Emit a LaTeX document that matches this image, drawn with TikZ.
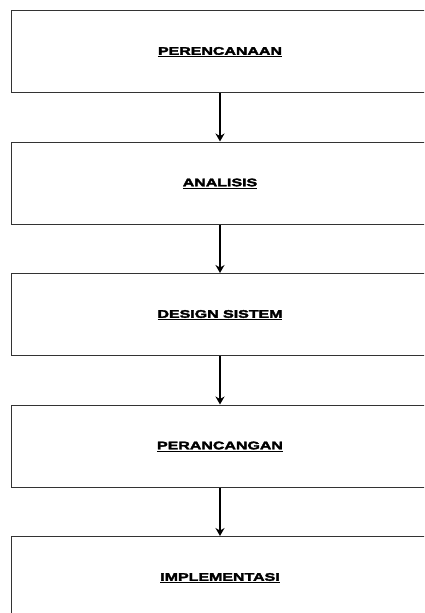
\documentclass[tikz,border=0pt]{standalone}
\usepackage{fontspec}
\setmainfont{Liberation Sans}
\newfontfamily\stagefont[FakeStretch=1.45,FakeBold=3]{Liberation Sans Bold}
\usetikzlibrary{positioning,arrows.meta}

\begin{document}
\begin{tikzpicture}[x=1pt,y=-1pt,line width=1.3pt,>={Stealth[length=8pt,width=9pt]},
  stage/.style={draw=black!80,minimum width=440pt,minimum height=82pt,inner sep=0pt,anchor=north west},
  lab/.style={font=\stagefont\fontsize{11}{13}\selectfont,inner sep=0pt}]
\useasboundingbox (0,0) rectangle (424,613);
\clip (0,0) rectangle (424,613);
\foreach \i/\t in {1/PERENCANAAN,2/ANALISIS,3/DESIGN SISTEM,4/PERANCANGAN,5/IMPLEMENTASI}{
  \node[stage] (s\i) at (11,10+131.5*\i-131.5) {};
  \node[lab] (t\i) at (220,52+131.5*\i-131.5) {\underline{\t}};};
\foreach \i/\j in {1/2,2/3,3/4,4/5}{\draw[->,line width=2.2pt] (t\i |- s\i.south) -- (t\i |- s\j.north);};
\end{tikzpicture}
\end{document}
